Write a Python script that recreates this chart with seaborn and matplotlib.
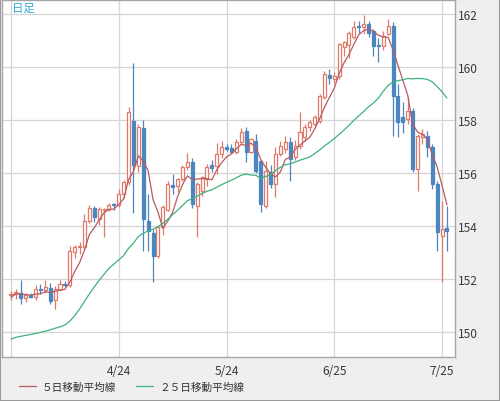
import numpy as np
import pandas as pd
import seaborn as sns
import matplotlib.pyplot as plt
from matplotlib.patches import Rectangle

# daily candles, 3/25 - 7/26
dates = ['3/25', '3/26', '3/27', '3/28', '3/29', '4/1', '4/2', '4/3', '4/4', '4/5',
         '4/8', '4/9', '4/10', '4/11', '4/12', '4/15', '4/16', '4/17', '4/18', '4/19',
         '4/22', '4/23', '4/24', '4/25', '4/26', '4/29', '4/30', '5/1', '5/2', '5/3',
         '5/6', '5/7', '5/8', '5/9', '5/10', '5/13', '5/14', '5/15', '5/16', '5/17',
         '5/20', '5/21', '5/22', '5/23', '5/24', '5/27', '5/28', '5/29', '5/30', '5/31',
         '6/3', '6/4', '6/5', '6/6', '6/7', '6/10', '6/11', '6/12', '6/13', '6/14',
         '6/17', '6/18', '6/19', '6/20', '6/21', '6/24', '6/25', '6/26', '6/27', '6/28',
         '7/1', '7/2', '7/3', '7/4', '7/5', '7/8', '7/9', '7/10', '7/11', '7/12',
         '7/15', '7/16', '7/17', '7/18', '7/19', '7/22', '7/23', '7/24', '7/25', '7/26']

opens = [151.38, 151.42, 151.48, 151.28, 151.38, 151.34, 151.64, 151.58, 151.68, 151.20,
         151.62, 151.82, 151.76, 153.02, 153.20, 153.22, 154.20, 154.70, 154.25, 154.62,
         154.66, 154.84, 154.78, 155.22, 155.66, 157.95, 156.25, 157.70, 154.20, 153.73,
         152.87, 153.96, 154.60, 155.55, 155.50, 155.77, 156.23, 156.42, 154.75, 155.32,
         155.77, 156.30, 156.26, 156.72, 157.00, 156.95, 156.80, 157.17, 157.58, 156.80,
         157.20, 156.45, 154.75, 156.04, 155.58, 156.72, 156.90, 157.17, 156.60, 157.02,
         157.36, 157.74, 157.85, 157.96, 158.87, 159.70, 159.55, 159.67, 160.75, 160.85,
         161.13, 161.55, 161.50, 161.62, 161.37, 160.82, 160.78, 161.25, 161.56, 158.92,
         158.10, 158.04, 158.35, 156.15, 157.35, 157.41, 156.97, 155.58, 153.63, 153.91]

highs = [151.56, 151.62, 151.95, 151.48, 151.46, 151.78, 151.80, 151.95, 151.85, 151.75,
         151.95, 151.92, 153.25, 153.30, 153.40, 154.45, 154.80, 154.75, 154.72, 154.70,
         154.86, 154.88, 155.38, 155.75, 158.48, 160.15, 157.85, 158.00, 155.20, 153.90,
         154.05, 154.78, 155.70, 155.96, 155.80, 156.30, 156.75, 156.55, 155.65, 155.90,
         156.35, 156.50, 157.15, 157.20, 157.10, 157.10, 157.30, 157.70, 157.72, 157.32,
         157.47, 156.50, 156.45, 156.30, 157.00, 157.20, 157.40, 157.35, 157.25, 158.30,
         157.85, 158.00, 158.20, 159.00, 159.85, 159.92, 159.80, 160.90, 160.98, 161.35,
         161.75, 161.72, 161.96, 161.75, 161.45, 161.10, 161.35, 161.81, 161.70, 159.36,
         158.70, 158.86, 158.45, 157.47, 157.66, 157.60, 157.10, 155.70, 154.95, 154.77]

lows = [151.22, 151.25, 151.05, 151.12, 151.28, 151.22, 151.45, 151.48, 151.05, 150.88,
        151.58, 151.70, 151.70, 152.80, 152.95, 153.10, 154.10, 154.15, 154.05, 153.60,
        154.55, 154.60, 154.72, 155.05, 155.55, 154.50, 156.05, 153.05, 153.05, 151.90,
        152.80, 153.65, 154.55, 155.20, 155.30, 155.70, 156.10, 154.70, 153.60, 155.15,
        155.50, 156.05, 155.95, 156.55, 156.85, 156.75, 156.72, 157.10, 156.42, 156.75,
        156.00, 154.53, 154.70, 155.45, 155.10, 156.65, 156.75, 155.70, 156.50, 156.90,
        157.20, 157.60, 157.75, 157.90, 158.80, 159.35, 159.40, 159.55, 160.40, 160.35,
        161.05, 161.30, 161.25, 161.15, 160.43, 160.20, 160.65, 161.20, 157.40, 157.36,
        157.50, 157.85, 156.03, 155.33, 157.10, 156.60, 155.40, 153.07, 151.88, 153.07]

closes = [151.45, 151.52, 151.28, 151.40, 151.34, 151.62, 151.58, 151.70, 151.18, 151.62,
          151.80, 151.76, 153.05, 153.20, 153.26, 154.20, 154.70, 154.33, 154.64, 154.66,
          154.80, 154.78, 155.22, 155.66, 158.30, 156.30, 157.75, 154.26, 153.80, 152.87,
          153.96, 154.72, 155.58, 155.48, 155.77, 156.23, 156.42, 154.85, 155.60, 155.85,
          156.23, 156.20, 156.72, 156.98, 156.90, 156.80, 157.17, 157.55, 156.80, 157.30,
          156.07, 154.83, 156.07, 155.58, 156.72, 157.02, 157.17, 156.53, 157.02, 157.55,
          157.74, 157.92, 158.10, 158.90, 159.74, 159.60, 159.67, 160.87, 160.94, 161.30,
          161.50, 161.50, 161.62, 161.30, 160.80, 160.78, 161.18, 161.56, 158.92, 157.91,
          157.93, 158.35, 156.15, 157.40, 157.47, 156.97, 155.58, 153.76, 153.90, 153.80]

# closes before 3/25, needed for the moving averages at the left edge
prior_closes = [150.00, 150.30, 150.50, 150.50, 150.70, 150.50, 150.60, 149.95, 150.10, 150.50,
                150.00, 149.40, 148.00, 147.05, 146.95, 147.65, 147.75, 148.30, 149.05, 149.15,
                150.85, 151.25, 151.60, 151.40]

grid_dates = ['3/25', '4/24', '5/24', '6/25', '7/25']
label_dates = ['', '4/24', '5/24', '6/25', '7/25']

up_col = '#e07a68'
down_col = '#4a86c0'
ma5_col = '#b85a62'
ma25_col = '#3db27c'

sns.set_theme(style='white')
plt.rcParams['font.family'] = ['Noto Sans CJK JP', 'DejaVu Sans']

df = pd.DataFrame({'date': dates, 'open': opens, 'high': highs, 'low': lows, 'close': closes})
df['x'] = np.arange(len(df))
all_close = pd.Series(prior_closes + closes)
n0 = len(prior_closes)
df['ma5'] = all_close.rolling(5).mean().iloc[n0:].to_numpy()
df['ma25'] = all_close.rolling(25).mean().iloc[n0:].to_numpy()

fig = plt.figure(figsize=(5, 4.02), dpi=100, facecolor='#efefef')
ax = fig.add_axes([0.004, 0.1095, 0.906, 0.888])
ax.set_facecolor('white')

up = df[df['close'] >= df['open']]
dn = df[df['close'] < df['open']]

# wicks
ax.vlines(up['x'], up['low'], up['high'], color=up_col, lw=0.9, zorder=2)
ax.vlines(dn['x'], dn['low'], dn['high'], color=down_col, lw=0.9, zorder=2)

# bodies
ax.bar(up['x'], up['close'] - up['open'], bottom=up['open'], width=0.62,
       facecolor='white', edgecolor=up_col, linewidth=0.9, zorder=3)
ax.bar(dn['x'], dn['close'] - dn['open'], bottom=dn['open'], width=0.62,
       facecolor=down_col, edgecolor=down_col, linewidth=0.9, zorder=3)

# moving averages
sns.lineplot(data=df, x='x', y='ma5', color=ma5_col, lw=0.9, ax=ax,
             label='５日移動平均線', zorder=4)
sns.lineplot(data=df, x='x', y='ma25', color=ma25_col, lw=0.9, ax=ax,
             label='２５日移動平均線', zorder=4)

ax.set_xlim(-1.84, 90.65)
ax.set_ylim(149.06, 162.53)
ax.set_xlabel('')
ax.set_ylabel('')

xpos = [dates.index(d) for d in grid_dates]
ax.set_xticks(xpos)
ax.set_xticklabels(label_dates)
ax.set_yticks(range(150, 163, 2))
ax.yaxis.tick_right()
ax.tick_params(axis='both', length=0, labelsize=8.6, colors='#3a3a3a')
ax.tick_params(axis='x', pad=5)
ax.tick_params(axis='y', pad=2)
ax.grid(True, color='#d6d6d6', lw=0.9)
ax.set_axisbelow(True)
for s in ax.spines.values():
    s.set_color('#a6a6a6')
    s.set_linewidth(1.0)

ax.text(0.022, 0.978, '日足', transform=ax.transAxes, ha='left', va='center',
        fontsize=8.2, color='#2eaad6')

ax.get_legend().remove()
h, l = ax.get_legend_handles_labels()
fig.legend(h, l, loc='center left', bbox_to_anchor=(0.018, 0.035), ncol=2, frameon=False,
           fontsize=7.7, handlelength=1.6, handletextpad=0.6, columnspacing=1.8,
           labelcolor='#333333')

fig.patches.append(Rectangle((0, 0), 1, 1, transform=fig.transFigure, fill=False,
                             edgecolor='#9a9a9a', lw=1.5))

fig.savefig('out.png', dpi=100, facecolor=fig.get_facecolor())
